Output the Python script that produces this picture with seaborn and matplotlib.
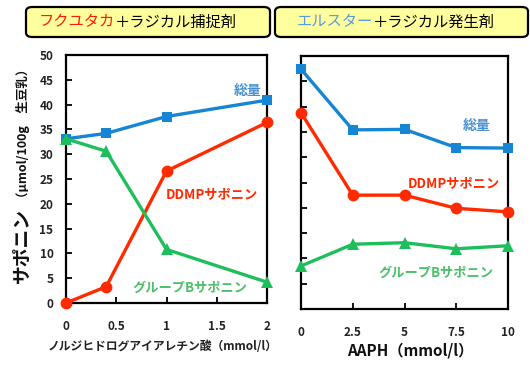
import numpy as np
import pandas as pd
import matplotlib
matplotlib.use("Agg")
import matplotlib.pyplot as plt
from matplotlib.patches import FancyBboxPatch
import seaborn as sns

# Left panel: Fukuyutaka + radical scavenger (NDGA)
ndga_conc = [0, 0.4, 1, 2]
left_total = [33.1, 34.2, 37.6, 40.9]
left_ddmp = [0, 3.3, 26.6, 36.4]
left_groupb = [33.1, 30.6, 10.8, 4.2]
left_xticks = [0, 0.5, 1, 1.5, 2]
left_xticklabels = ["0", "0.5", "1", "1.5", "2"]

# Right panel: Elstar + radical generator (AAPH)
aaph_conc = [0, 2.5, 5, 7.5, 10]
right_total = [47.4, 35.4, 35.5, 31.9, 31.8]
right_ddmp = [38.8, 22.5, 22.5, 19.9, 19.2]
right_groupb = [8.5, 12.8, 13.1, 11.9, 12.5]
right_xticks = [0, 2.5, 5, 7.5, 10]
right_xticklabels = ["0", "2.5", "5", "7.5", "10"]

yticks = [0, 5, 10, 15, 20, 25, 30, 35, 40, 45, 50]

sns.set_theme(style="white")
plt.rcParams["font.family"] = ["Noto Sans CJK JP", "DejaVu Sans"]

BLUE = "#1685d3"
RED = "#ff2a00"
GREEN = "#1fbe5c"
BLUE_TXT = "#4a90d0"
GREEN_TXT = "#4cc068"

W, H = 530, 365
fig = plt.figure(figsize=(W / 100, H / 100), dpi=100)


def fx(px):
    return px / W


def fy(py):
    return 1 - py / H


ax1 = fig.add_axes([fx(66), fy(303), fx(267 - 66), (303 - 55) / H])
ax2 = fig.add_axes([fx(301), fy(309), fx(508 - 301), (309 - 56) / H])


def draw_series(ax, x, y, color, marker, ms):
    df = pd.DataFrame({"x": x, "y": y})
    sns.lineplot(data=df, x="x", y="y", ax=ax, color=color, marker=marker,
                 markersize=ms, markeredgewidth=0, linewidth=2.4,
                 clip_on=False, zorder=3)


for ax, x, tot, dd, gb in [(ax1, ndga_conc, left_total, left_ddmp, left_groupb),
                           (ax2, aaph_conc, right_total, right_ddmp, right_groupb)]:
    draw_series(ax, x, tot, BLUE, "s", 7)
    draw_series(ax, x, dd, RED, "o", 8.5)
    draw_series(ax, x, gb, GREEN, "^", 8.5)
    ax.set_ylim(0, 50)
    ax.set_yticks(yticks)
    ax.set_xlabel("")
    ax.set_ylabel("")
    for s in ax.spines.values():
        s.set_color("black")
        s.set_linewidth(1.6)
    ax.tick_params(axis="both", direction="in", length=4, width=1.3,
                   color="black", labelsize=8.5, labelcolor="#222222")
    ax.tick_params(axis="x", pad=12)
    ax.tick_params(axis="y", pad=9)
    ax.tick_params(left=True, bottom=True)

ax1.set_xlim(0, 2)
ax1.set_xticks(left_xticks)
ax1.set_xticklabels(left_xticklabels, fontweight="bold")
ax1.set_yticks(yticks)
ax1.set_yticklabels([str(v) for v in yticks], fontweight="bold")

ax2.set_xlim(0, 10)
ax2.set_xticks(right_xticks)
ax2.set_xticklabels(right_xticklabels, fontweight="bold")
ax2.set_yticklabels([])

# Series labels
ax1.text(1.81, 42.8, "総量", color=BLUE_TXT, fontsize=10, fontweight="bold",
         ha="center", va="center")
ax1.text(1.45, 22.0, "DDMPサポニン", color=RED, fontsize=9.5, fontweight="bold",
         ha="center", va="center")
ax1.text(1.23, 3.0, "グループBサポニン", color=GREEN_TXT, fontsize=9.5,
         fontweight="bold", ha="center", va="center")

ax2.text(8.5, 36.1, "総量", color=BLUE_TXT, fontsize=10, fontweight="bold",
         ha="center", va="center")
ax2.text(7.4, 24.9, "DDMPサポニン", color=RED, fontsize=9.5, fontweight="bold",
         ha="center", va="center")
ax2.text(6.5, 7.1, "グループBサポニン", color=GREEN_TXT, fontsize=9.5,
         fontweight="bold", ha="center", va="center")

# Axis titles
fig.text(fx(163), fy(346), "ノルジヒドログアイアレチン酸（mmol/l）", fontsize=8.5,
         fontweight="bold", color="#222222", ha="center", va="center")
fig.text(fx(410), fy(351), "AAPH（mmol/l）", fontsize=11, fontweight="bold",
         color="#111111", ha="center", va="center")

fig.text(fx(22), fy(283), "サポニン", fontsize=13.5, fontweight="bold",
         rotation=90, ha="center", va="bottom", color="#111111")
fig.text(fx(23), fy(204), "（μmol/100g　生豆乳）", fontsize=9, fontweight="bold",
         rotation=90, ha="center", va="bottom", color="#111111")

# Panel headers
for x0, x1 in [(26, 270), (275, 528)]:
    box = FancyBboxPatch((fx(x0), fy(37)), fx(x1 - x0), (37 - 7) / H,
                         boxstyle="round,pad=0,rounding_size=0.012",
                         transform=fig.transFigure, facecolor="#ffff9e",
                         edgecolor="black", linewidth=1.6)
    fig.add_artist(box)

fig.text(fx(115), fy(22), "フクユタカ", color="#ff1a00", fontsize=11,
         ha="right", va="center")
fig.text(fx(115), fy(22), "＋ラジカル捕捉剤", color="black", fontsize=11,
         ha="left", va="center")
fig.text(fx(373), fy(22), "エルスター", color="#5b9bd5", fontsize=11,
         ha="right", va="center")
fig.text(fx(373), fy(22), "＋ラジカル発生剤", color="black", fontsize=11,
         ha="left", va="center")

fig.savefig("out.png", dpi=100, facecolor="white")
